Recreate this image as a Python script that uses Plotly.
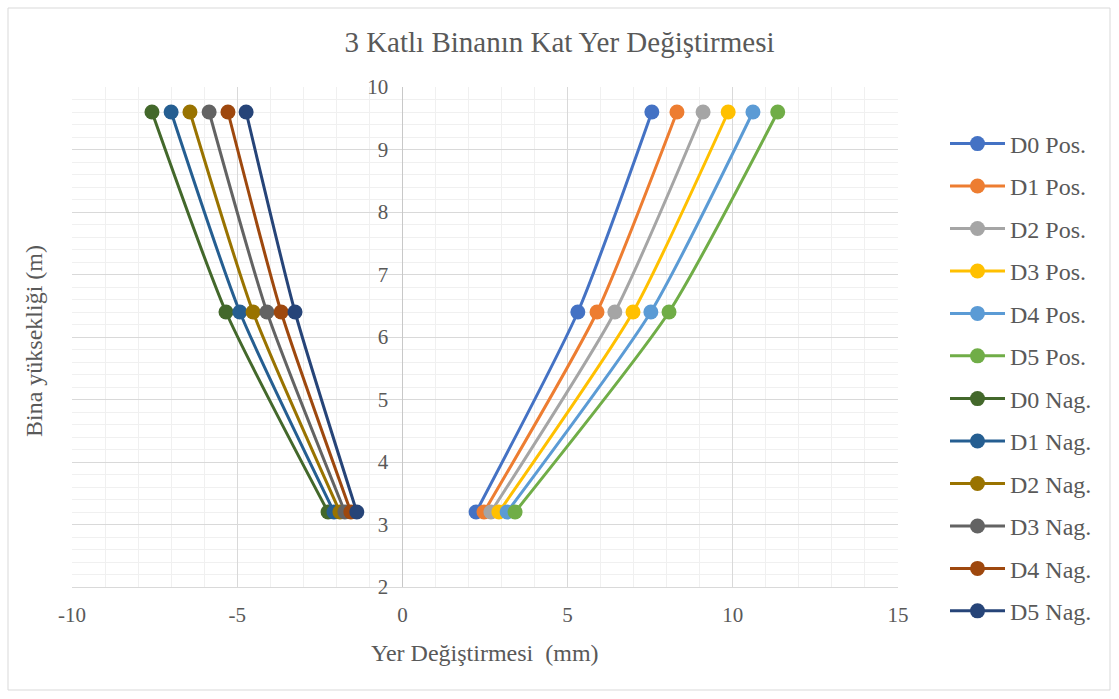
import plotly.graph_objects as go

heights = [3.2, 6.4, 9.6]

pos_names = ["D0 Pos.", "D1 Pos.", "D2 Pos.", "D3 Pos.", "D4 Pos.", "D5 Pos."]
pos_values = [
    [2.23, 5.31, 7.55],
    [2.47, 5.89, 8.31],
    [2.68, 6.43, 9.10],
    [2.92, 6.98, 9.86],
    [3.17, 7.52, 10.61],
    [3.41, 8.07, 11.36],
]
pos_colors = ["#4472C4", "#ED7D31", "#A5A5A5", "#FFC000", "#5B9BD5", "#70AD47"]

neg_names = ["D0 Nag.", "D1 Nag.", "D2 Nag.", "D3 Nag.", "D4 Nag.", "D5 Nag."]
neg_values = [
    [-2.25, -5.34, -7.58],
    [-2.07, -4.92, -7.00],
    [-1.89, -4.52, -6.43],
    [-1.74, -4.10, -5.85],
    [-1.56, -3.67, -5.28],
    [-1.38, -3.25, -4.73],
]
neg_colors = ["#43682B", "#255E91", "#997300", "#636363", "#9E480E", "#264478"]

x_ticks = [-10, -5, 0, 5, 10, 15]
x_ticktext = ["-10", "-5", "0", "5", "10", "15"]
y_ticks = [2, 3, 4, 5, 6, 7, 8, 9, 10]

FONT = "Liberation Serif, Times New Roman, serif"
TXT = "#595959"
TICK_SIZE = 21
LAB_SIZE = 24

fig = go.Figure()
groups = [(pos_names, pos_values, pos_colors, "legend"),
          (neg_names, neg_values, neg_colors, "legend2")]
k = 0
for names, values, colors, leg in groups:
    for n, v, c in zip(names, values, colors):
        fig.add_trace(go.Scatter(
            x=v, y=heights, name=n, mode="lines+markers",
            line=dict(color=c, width=3, shape="spline", smoothing=0.6),
            marker=dict(color=c, size=15),
            legendgroup=f"g{k}", legend=leg,
        ))
        k += 1

W, H = 1119, 699
L, R, T, B = 72, 221, 87, 112
pw, ph = W - L - R, H - T - B

leg_common = dict(xanchor="left", yanchor="top", traceorder="grouped",
                  tracegroupgap=8.25, itemwidth=55,
                  font=dict(size=LAB_SIZE, color=TXT, family=FONT),
                  bgcolor="rgba(0,0,0,0)")
lx = (945 - L) / pw

fig.update_layout(
    width=W, height=H,
    margin=dict(l=L, r=R, t=T, b=B),
    paper_bgcolor="white", plot_bgcolor="white",
    font=dict(family=FONT, color=TXT, size=TICK_SIZE),
    title=dict(text="3 Katlı Binanın Kat Yer Değiştirmesi", x=0.5, xref="container",
               y=1 - 42 / H, yref="container", yanchor="middle", xanchor="center",
               font=dict(size=29, color=TXT, family=FONT)),
    showlegend=True,
    legend=dict(x=lx, y=(587 - 121.5) / ph, **leg_common),
    legend2=dict(x=lx, y=(587 - 376.5) / ph, **leg_common),
    xaxis=dict(range=[-10, 15], tickvals=x_ticks, ticktext=x_ticktext,
               showgrid=True, gridcolor="#D9D9D9",
               gridwidth=1, zeroline=False, showline=True, linecolor="#D9D9D9",
               ticks="", tickfont=dict(size=TICK_SIZE, color=TXT, family=FONT),
               ticklabelstandoff=9,
               minor=dict(dtick=1, showgrid=True, gridcolor="#F0F0F0", gridwidth=1),
               fixedrange=True),
    yaxis=dict(range=[2, 10], tickvals=y_ticks, showgrid=True, gridcolor="#D9D9D9",
               gridwidth=1, zeroline=False, showline=True, linecolor="#C8C8C8",
               anchor="free", position=(402.4 - L) / pw, side="left",
               ticks="", tickfont=dict(size=TICK_SIZE, color=TXT, family=FONT),
               ticklabelstandoff=10,
               minor=dict(dtick=0.2, showgrid=True, gridcolor="#F0F0F0", gridwidth=1),
               fixedrange=True),
    annotations=[
        dict(text="Yer Değiştirmesi  (mm)", xref="paper", yref="paper",
             x=(485 - L) / pw, y=(587 - 653) / ph, xanchor="center", yanchor="middle",
             showarrow=False, font=dict(size=LAB_SIZE, color=TXT, family=FONT)),
        dict(text="Bina yüksekliği (m)", xref="paper", yref="paper",
             x=(34 - L) / pw, y=(587 - 341) / ph, xanchor="center", yanchor="middle",
             textangle=-90, showarrow=False, font=dict(size=LAB_SIZE, color=TXT, family=FONT)),
    ],
    shapes=[
        dict(type="rect", xref="paper", yref="paper",
             x0=(8 - L) / pw, x1=(1110 - L) / pw,
             y0=(587 - 690) / ph, y1=(587 - 8) / ph,
             line=dict(color="#D9D9D9", width=1), fillcolor="rgba(0,0,0,0)", layer="below"),
    ],
)

fig.write_html("out.html")
